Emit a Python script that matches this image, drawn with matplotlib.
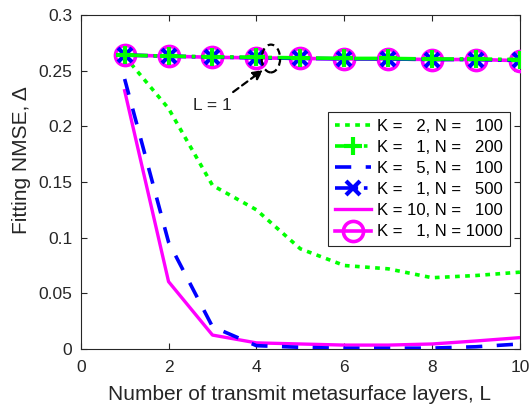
import matplotlib
matplotlib.use("Agg")
import matplotlib.pyplot as plt
from matplotlib.patches import Ellipse

plt.rcParams['font.family'] = ['Liberation Sans', 'DejaVu Sans']

L = [1, 2, 3, 4, 5, 6, 7, 8, 9, 10]
k2_n100 = [0.263, 0.216, 0.147, 0.125, 0.090, 0.075, 0.072, 0.064, 0.066, 0.069]
k1_n200 = [0.264, 0.263, 0.2625, 0.262, 0.2615, 0.261, 0.261, 0.2605, 0.2605, 0.2600]
k5_n100 = [0.2425, 0.096, 0.020, 0.003, 0.0015, 0.0006, 0.0006, 0.0008, 0.002, 0.0045]
k1_n500 = [0.264, 0.263, 0.2622, 0.2615, 0.261, 0.2607, 0.2605, 0.260, 0.260, 0.2592]
k10_n100 = [0.232, 0.0605, 0.0125, 0.0055, 0.0045, 0.0035, 0.0035, 0.0045, 0.0072, 0.0102]
k1_n1000 = [0.264, 0.263, 0.262, 0.2615, 0.261, 0.2605, 0.2605, 0.260, 0.260, 0.259]

labels = ["K =   2, N =   100", "K =   1, N =   200", "K =   5, N =   100",
          "K =   1, N =   500", "K = 10, N =   100", "K =   1, N = 1000"]
xticks = [0, 2, 4, 6, 8, 10]
yticks = [0, 0.05, 0.1, 0.15, 0.2, 0.25, 0.3]
ytick_labels = ["0", "0.05", "0.1", "0.15", "0.2", "0.25", "0.3"]

G = (0, 1, 0)
B = (0, 0, 1)
M = (1, 0, 1)
TXT = '#262626'

fig = plt.figure(figsize=(5.3, 4.05), dpi=100)
ax = fig.add_axes([0.1523, 0.1383, 0.8287, 0.8247])

ax.plot(L, k2_n100, color=G, lw=2.6, linestyle=(0, (1.3, 1.5)), label=labels[0], zorder=3)
ax.plot(L, k1_n200, color=G, lw=2.6, linestyle='-.', marker='+', ms=13, mew=3, label=labels[1], zorder=6)
ax.plot(L, k5_n100, color=B, lw=2.6, linestyle=(0, (4.5, 4.0)), label=labels[2], zorder=4)
ax.plot(L, k1_n500, color=B, lw=2.6, linestyle='-.', marker='x', ms=9.5, mew=3, label=labels[3], zorder=5)
ax.plot(L, k10_n100, color=M, lw=2.4, linestyle='-', label=labels[4], zorder=3)
ax.plot(L, k1_n1000, color=M, lw=2.6, linestyle='-', marker='o', ms=14.5, mew=2.6,
        mfc='none', label=labels[5], zorder=4)

# annotation
ax.add_patch(Ellipse((4.33, 0.2609), 0.42, 0.025, fill=False, ec='black', lw=1.6,
                     linestyle=(0, (3, 2)), zorder=7))
ax.annotate("", xy=(4.15, 0.2506), xytext=(3.47, 0.2308),
            arrowprops=dict(arrowstyle='-|>', color='black', lw=1.6, linestyle=(0, (3, 2)),
                            mutation_scale=14, shrinkA=0, shrinkB=0), zorder=7)
ax.text(2.99, 0.219, "L = 1", fontsize=12.5, color=TXT, ha='center', va='center')

ax.set_xlim(0, 10)
ax.set_ylim(0, 0.3)
ax.set_xticks(xticks)
ax.set_yticks(yticks)
ax.set_yticklabels(ytick_labels)
ax.tick_params(direction='in', length=4, width=0.8, colors=TXT, labelsize=12.5,
               top=True, right=True, labelcolor=TXT, pad=6)
ax.tick_params(axis='x', pad=8)
for s in ax.spines.values():
    s.set_color('#262626')
    s.set_linewidth(0.8)

ax.set_xlabel("Number of transmit metasurface layers, L", fontsize=15, color=TXT)
ax.set_ylabel("Fitting NMSE, Δ", fontsize=15, color=TXT)
ax.xaxis.set_label_coords(0.499, -0.135)
ax.xaxis.label.set_verticalalignment('center')
ax.yaxis.set_label_coords(-0.134, 0.566)
ax.yaxis.label.set_verticalalignment('center')

leg = ax.legend(loc='upper right', bbox_to_anchor=(0.977, 0.71), fontsize=12,
                handlelength=2.2, labelspacing=0.37, handletextpad=0.35,
                borderpad=0.4, borderaxespad=0, frameon=True, fancybox=False,
                framealpha=1, edgecolor='#262626')
leg.get_frame().set_linewidth(0.8)
for t in leg.get_texts():
    t.set_color('black')

fig.savefig("out.png", dpi=100)
